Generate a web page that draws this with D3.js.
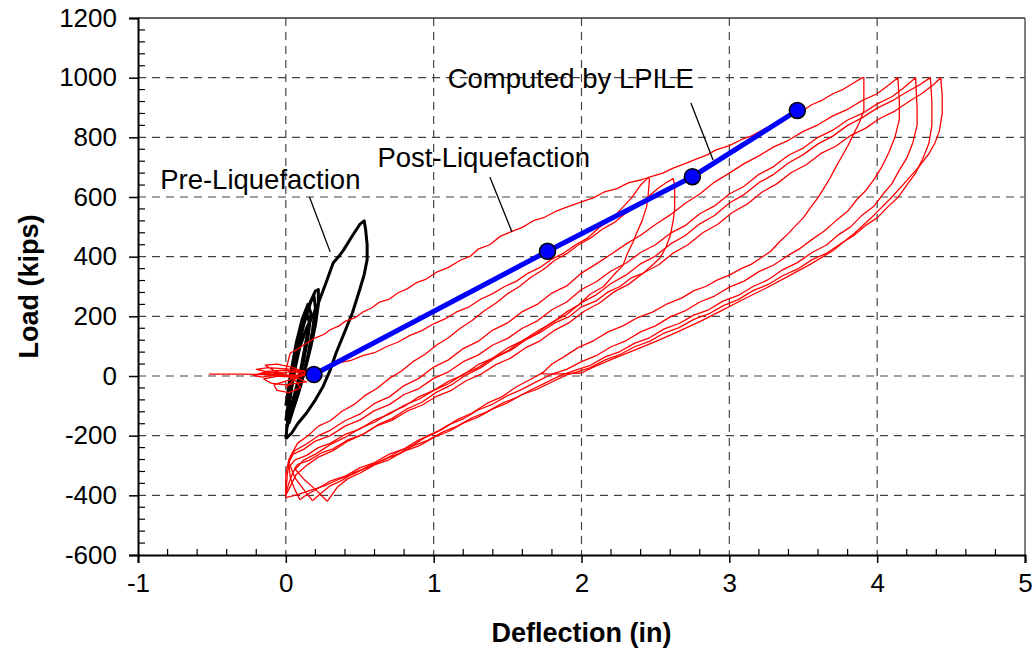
<!DOCTYPE html>
<html>
<head>
<meta charset="utf-8">
<script src="https://cdn.jsdelivr.net/npm/d3@7"></script>
<style>
  body { margin: 0; background: #fff; }
  svg text { font-family: "Liberation Sans", Arial, sans-serif; fill: #000; }
</style>
</head>
<body>
<script>
"use strict";

// Axis ticks
const xTicks = [-1, 0, 1, 2, 3, 4, 5];
const yTicks = [-600, -400, -200, 0, 200, 400, 600, 800, 1000, 1200];

// LPILE computed points (deflection in, load kips)
const lpileDefl = [0.19, 1.77, 2.75, 3.46];
const lpileLoad = [5, 418, 668, 890];

// Pre-liquefaction test loops (black)
const preOuter = [[0.0,-210],[0.01,-160],[0.02,-100],[0.04,-40],[0.06,20],[0.095,97],[0.14,160],[0.21,231],[0.27,310],[0.32,379],[0.36,402],[0.39,422],[0.45,470],[0.5,508],[0.53,520],[0.54,490],[0.55,440],[0.55,390],[0.53,340],[0.5,290],[0.45,211],[0.4,150],[0.34,77],[0.3,20],[0.25,-37],[0.2,-80],[0.14,-124],[0.08,-160],[0.04,-191],[0.0,-210]];
const preIn1 = [[0.0,-150],[0.03,-40],[0.06,60],[0.1,150],[0.15,230],[0.2,285],[0.22,290],[0.22,240],[0.2,170],[0.17,100],[0.13,20],[0.09,-50],[0.05,-110],[0.02,-160]];
const preIn2 = [[0.01,-130],[0.04,-30],[0.08,80],[0.12,170],[0.17,250],[0.19,270],[0.2,230],[0.18,150],[0.15,70],[0.11,-10],[0.07,-80],[0.03,-140]];
const preIn3 = [[0.0,-100],[0.03,0],[0.07,110],[0.11,190],[0.15,240],[0.17,210],[0.15,130],[0.12,50],[0.08,-30],[0.04,-100],[0.01,-170]];
const preIn4 = [[0.02,-60],[0.06,50],[0.1,150],[0.14,210],[0.16,180],[0.13,100],[0.1,20],[0.06,-60],[0.02,-120]];

// Post-liquefaction test loops (red)
const postNoise = [[-0.52,6],[-0.3,6],[-0.1,5],[0.05,4],[0.12,2],[-0.02,-2],[-0.18,8],[-0.05,12],[0.1,14],[0.04,22],[-0.12,28],[-0.2,22],[-0.08,10],[0.08,-8],[0.14,-20],[0.0,-30],[-0.1,-24],[-0.15,-10],[-0.05,0],[0.1,-2],[0.15,8],[0.04,30],[-0.06,40],[-0.14,36],[-0.08,18],[0.06,-12],[0.1,-40],[0.02,-56],[-0.06,-48],[-0.08,-30],[0.02,-14],[0.12,6],[0.18,14],[0.08,20],[-0.04,6],[-0.16,-4],[-0.22,2],[-0.12,16],[0.0,20],[0.1,10],[0.16,-4],[0.2,0],[0.1,4]];

const postA = [[0.0,-40],[0.06,-10],[0.12,5],[0.2,18],[0.28,30],[0.36,44],[0.44,52],[0.52,68],[0.6,78],[0.68,98],[0.76,114],[0.84,136],[0.92,152],[1.0,175],[1.08,192],[1.16,216],[1.24,232],[1.32,258],[1.4,276],[1.48,300],[1.56,318],[1.64,345],[1.72,364],[1.8,392],[1.88,412],[1.96,440],[2.04,462],[2.12,498],[2.2,524],[2.28,566],[2.34,598],[2.4,640],[2.45,664],[2.46,660],[2.45,600],[2.44,567],[2.41,520],[2.38,488],[2.35,450],[2.31,410],[2.28,370],[2.22,340],[2.15,300],[2.06,275],[1.98,238],[1.9,215],[1.8,178],[1.7,150],[1.6,118],[1.5,94],[1.4,60],[1.3,38],[1.2,4],[1.1,-18],[1.0,-48],[0.9,-70],[0.8,-102],[0.7,-124],[0.6,-155],[0.5,-176],[0.4,-206],[0.3,-230],[0.2,-262],[0.12,-282],[0.05,-320],[0.02,-360],[0.0,-395]];

const postB = [[0.0,-395],[0.01,-330],[0.03,-270],[0.08,-225],[0.15,-200],[0.22,-168],[0.3,-150],[0.38,-118],[0.46,-96],[0.54,-64],[0.62,-40],[0.7,-8],[0.78,16],[0.86,48],[0.94,72],[1.02,104],[1.1,128],[1.18,160],[1.26,186],[1.34,218],[1.42,244],[1.5,276],[1.58,300],[1.66,332],[1.74,356],[1.82,388],[1.9,410],[1.98,440],[2.06,462],[2.14,492],[2.22,514],[2.3,546],[2.38,570],[2.46,604],[2.52,630],[2.58,650],[2.62,662],[2.63,640],[2.63,560],[2.62,520],[2.6,470],[2.57,430],[2.53,395],[2.48,372],[2.42,345],[2.34,330],[2.26,300],[2.18,282],[2.1,252],[2.0,232],[1.92,200],[1.82,178],[1.72,146],[1.62,120],[1.52,86],[1.42,62],[1.32,28],[1.22,4],[1.12,-30],[1.02,-54],[0.92,-88],[0.82,-110],[0.72,-142],[0.62,-164],[0.52,-196],[0.42,-218],[0.32,-250],[0.22,-272],[0.14,-300],[0.07,-330],[0.03,-370],[0.0,-400]];

const postC = [[0.0,20],[0.03,77],[0.08,90],[0.12,104],[0.2,128],[0.26,140],[0.3,155],[0.36,168],[0.4,183],[0.47,196],[0.52,214],[0.58,228],[0.635,248],[0.7,258],[0.76,279],[0.82,292],[0.88,312],[0.95,325],[1.02,348],[1.1,364],[1.18,388],[1.25,402],[1.3,425],[1.38,440],[1.45,468],[1.53,485],[1.6,498],[1.68,522],[1.75,532],[1.83,553],[1.9,566],[2.0,584],[2.08,597],[2.15,616],[2.24,628],[2.32,648],[2.4,657],[2.47,668],[2.55,680],[2.62,697],[2.7,712],[2.78,728],[2.85,741],[2.91,758],[3.0,772],[3.08,792],[3.15,805],[3.24,829],[3.32,846],[3.4,868],[3.48,884],[3.56,910],[3.63,925],[3.7,946],[3.77,961],[3.84,982],[3.9,1000],
  [3.91,1000],[3.91,940],[3.91,890],[3.88,850],[3.84,810],[3.8,770],[3.76,735],[3.72,700],[3.68,662],[3.64,630],[3.6,598],[3.55,565],[3.5,530],[3.45,505],[3.4,478],[3.34,450],[3.28,418],[3.22,398],[3.15,375],[3.08,360],[3.0,338],[2.92,322],[2.84,300],[2.76,286],[2.68,262],[2.58,242],[2.48,214],[2.38,196],[2.28,168],[2.18,148],[2.08,118],[1.98,96],[1.88,64],[1.8,40],[1.74,12],[1.66,-10],[1.56,-36],[1.46,-70],[1.36,-92],[1.26,-124],[1.16,-146],[1.06,-178],[0.96,-200],[0.86,-232],[0.76,-254],[0.66,-282],[0.56,-302],[0.46,-328],[0.36,-346],[0.26,-368],[0.16,-384],[0.08,-398],[0.0,-408]];

const postD = [[0.0,-408],[0.0,-330],[0.02,-280],[0.06,-250],[0.14,-228],[0.22,-200],[0.3,-182],[0.4,-150],[0.5,-128],[0.6,-92],[0.7,-70],[0.8,-32],[0.9,-8],[1.0,30],[1.1,54],[1.2,92],[1.3,116],[1.4,154],[1.5,178],[1.6,216],[1.7,240],[1.8,278],[1.9,302],[2.0,345],[2.1,376],[2.2,408],[2.3,442],[2.4,472],[2.5,508],[2.6,540],[2.7,578],[2.8,610],[2.9,650],[3.0,680],[3.1,712],[3.2,738],[3.3,768],[3.4,790],[3.5,820],[3.6,842],[3.7,872],[3.8,894],[3.9,924],[4.0,946],[4.08,976],[4.14,1000],
  [4.15,920],[4.15,860],[4.12,800],[4.08,750],[4.03,700],[3.98,660],[3.92,620],[3.86,590],[3.8,552],[3.72,520],[3.64,485],[3.56,458],[3.48,428],[3.4,405],[3.3,372],[3.2,350],[3.1,318],[3.0,298],[2.9,268],[2.8,248],[2.7,218],[2.6,198],[2.5,168],[2.4,148],[2.3,118],[2.2,98],[2.1,68],[2.0,48],[1.9,22],[1.8,6],[1.7,-18],[1.6,-44],[1.5,-66],[1.4,-94],[1.3,-114],[1.2,-144],[1.1,-164],[1.0,-194],[0.9,-214],[0.8,-244],[0.7,-262],[0.6,-290],[0.5,-308],[0.4,-336],[0.3,-352],[0.2,-382],[0.14,-398],[0.095,-415]];

const postE = [[0.095,-415],[0.06,-380],[0.03,-340],[0.02,-290],[0.05,-262],[0.12,-246],[0.2,-218],[0.3,-200],[0.4,-168],[0.5,-148],[0.6,-116],[0.7,-96],[0.8,-62],[0.9,-42],[1.0,-8],[1.1,14],[1.2,48],[1.3,70],[1.4,104],[1.5,126],[1.6,160],[1.7,184],[1.8,222],[1.9,248],[2.0,290],[2.1,316],[2.2,352],[2.3,378],[2.4,414],[2.5,440],[2.6,478],[2.7,504],[2.8,544],[2.9,570],[3.0,610],[3.1,636],[3.2,676],[3.3,702],[3.4,740],[3.5,764],[3.6,800],[3.7,824],[3.8,858],[3.9,880],[4.0,912],[4.1,936],[4.18,966],[4.26,1000],
  [4.27,900],[4.27,840],[4.24,780],[4.2,730],[4.15,690],[4.1,645],[4.04,610],[3.98,570],[3.9,540],[3.82,500],[3.74,474],[3.66,440],[3.56,414],[3.46,380],[3.36,356],[3.26,322],[3.16,300],[3.06,270],[2.96,252],[2.86,222],[2.76,204],[2.66,176],[2.56,158],[2.46,128],[2.36,110],[2.26,82],[2.16,64],[2.06,36],[1.96,20],[1.86,2],[1.76,-22],[1.66,-46],[1.56,-72],[1.46,-92],[1.36,-120],[1.26,-140],[1.16,-168],[1.06,-188],[0.96,-216],[0.86,-234],[0.76,-262],[0.66,-280],[0.56,-306],[0.46,-324],[0.38,-350],[0.3,-368],[0.24,-392],[0.18,-418]];

const postF = [[0.18,-418],[0.12,-380],[0.06,-340],[0.03,-300],[0.06,-282],[0.14,-266],[0.22,-240],[0.3,-226],[0.4,-196],[0.5,-178],[0.6,-148],[0.7,-128],[0.8,-98],[0.9,-78],[1.0,-48],[1.1,-26],[1.2,6],[1.3,28],[1.4,60],[1.5,84],[1.6,118],[1.7,144],[1.8,180],[1.9,206],[2.0,246],[2.1,272],[2.2,310],[2.3,338],[2.4,376],[2.5,402],[2.6,442],[2.7,470],[2.8,510],[2.9,538],[3.0,580],[3.1,608],[3.2,648],[3.3,676],[3.4,714],[3.5,742],[3.6,778],[3.7,804],[3.8,840],[3.9,866],[4.0,898],[4.1,922],[4.2,952],[4.28,974],[4.36,1000],
  [4.37,920],[4.37,840],[4.35,780],[4.31,730],[4.26,680],[4.2,640],[4.14,598],[4.07,566],[4.0,530],[3.92,504],[3.84,470],[3.76,446],[3.66,412],[3.56,390],[3.46,358],[3.36,336],[3.26,306],[3.16,286],[3.06,256],[2.96,236],[2.86,208],[2.76,190],[2.66,162],[2.56,144],[2.46,116],[2.36,98],[2.26,72],[2.16,54],[2.06,28],[1.96,12],[1.9,4],[1.8,-20],[1.7,-44],[1.6,-62],[1.5,-90],[1.4,-110],[1.3,-138],[1.2,-158],[1.1,-186],[1.0,-206],[0.9,-234],[0.8,-252],[0.7,-280],[0.6,-298],[0.5,-326],[0.42,-344],[0.35,-372],[0.28,-420]];

const postG = [[0.28,-420],[0.2,-380],[0.12,-345],[0.06,-310],[0.08,-296],[0.16,-282],[0.24,-258],[0.32,-244],[0.42,-214],[0.52,-196],[0.62,-166],[0.72,-148],[0.82,-118],[0.92,-98],[1.02,-68],[1.12,-48],[1.22,-16],[1.32,6],[1.42,38],[1.52,60],[1.62,94],[1.72,118],[1.82,154],[1.92,180],[2.02,218],[2.12,244],[2.22,282],[2.32,308],[2.42,346],[2.52,372],[2.62,412],[2.72,440],[2.82,480],[2.92,508],[3.02,548],[3.12,576],[3.22,616],[3.32,644],[3.42,682],[3.52,708],[3.62,746],[3.72,770],[3.82,806],[3.92,830],[4.02,864],[4.12,888],[4.22,922],[4.3,946],[4.38,976],[4.43,1000],
  [4.44,940],[4.44,880],[4.42,820],[4.39,780],[4.35,745],[4.28,700],[4.2,655],[4.1,600],[3.98,540],[3.85,480],[3.7,420],[3.55,375],[3.4,335],[3.25,295],[3.1,258],[2.95,220],[2.8,182],[2.65,148],[2.5,115],[2.35,85],[2.2,55],[2.08,30],[2.0,10],[1.9,8],[1.8,6],[1.72,8]];

const preLoops = [preOuter, preIn1, preIn2, preIn3, preIn4];
const postLoops = [postNoise, postA, postB, postC, postD, postE, postF, postG];

// Callouts: label text, text anchor point, leader start, leader end (data units)
const callouts = [
    { text: "Pre-Liquefaction", at: [-0.85, 627], from: [0.16, 600], to: [0.30, 416] },
    { text: "Post-Liquefaction", at: [0.62, 700], from: [1.38, 667], to: [1.53, 483] },
    { text: "Computed by LPILE", at: [1.095, 965], from: [2.74, 915], to: [2.89, 724] }
];

const size = { width: 1035, height: 649 };
const margin = { top: 18, right: 10, bottom: 94, left: 138 };

const svg = d3.select("body").append("svg")
    .attr("width", size.width)
    .attr("height", size.height);

const x = d3.scaleLinear().domain([-1, 5]).range([margin.left, size.width - margin.right]);
const y = d3.scaleLinear().domain([-600, 1200]).range([size.height - margin.bottom, margin.top]);

// plain hyphen for negatives, like the original
const fmt = d => String(d);

// Grid lines (dashed)
const grid = svg.append("g");
grid.selectAll(".vgrid")
    .data(xTicks.slice(1, -1))
    .enter().append("line")
    .attr("x1", d => x(d)).attr("x2", d => x(d))
    .attr("y1", y(1200)).attr("y2", y(-600))
    .attr("stroke", "#444").attr("stroke-width", 1.2)
    .attr("stroke-dasharray", "8,6");
grid.selectAll(".hgrid")
    .data(yTicks.slice(1, -1))
    .enter().append("line")
    .attr("x1", x(-1)).attr("x2", x(5))
    .attr("y1", d => y(d)).attr("y2", d => y(d))
    .attr("stroke", "#444").attr("stroke-width", 1.2)
    .attr("stroke-dasharray", "8,6");

// Frame top and right
svg.append("line")
    .attr("x1", x(-1)).attr("x2", x(5)).attr("y1", y(1200)).attr("y2", y(1200))
    .attr("stroke", "#333").attr("stroke-width", 1.5);
svg.append("line")
    .attr("x1", x(5)).attr("x2", x(5)).attr("y1", y(1200)).attr("y2", y(-600))
    .attr("stroke", "#555").attr("stroke-width", 1.5);

// Data lines
const line = d3.line().x(d => x(d[0])).y(d => y(d[1]));

svg.append("g").selectAll("path")
    .data(preLoops)
    .enter().append("path")
    .attr("d", line)
    .attr("fill", "none")
    .attr("stroke", "#000")
    .attr("stroke-width", 3)
    .attr("stroke-linejoin", "round");

svg.append("g").selectAll("path")
    .data(postLoops)
    .enter().append("path")
    .attr("d", line)
    .attr("fill", "none")
    .attr("stroke", "#ff0000")
    .attr("stroke-width", 1.3)
    .attr("stroke-linejoin", "round");

// LPILE line and markers
const lpile = lpileDefl.map((d, i) => [d, lpileLoad[i]]);
svg.append("path")
    .datum(lpile)
    .attr("d", line)
    .attr("fill", "none")
    .attr("stroke", "#0000ff")
    .attr("stroke-width", 5);
svg.selectAll(".pt")
    .data(lpile)
    .enter().append("circle")
    .attr("cx", d => x(d[0]))
    .attr("cy", d => y(d[1]))
    .attr("r", 8)
    .attr("fill", "#0000ff")
    .attr("stroke", "#000")
    .attr("stroke-width", 1.5);

// Callout text and leaders
callouts.forEach(c => {
    svg.append("line")
        .attr("x1", x(c.from[0])).attr("y1", y(c.from[1]))
        .attr("x2", x(c.to[0])).attr("y2", y(c.to[1]))
        .attr("stroke", "#000").attr("stroke-width", 1.3);
    svg.append("text")
        .attr("x", x(c.at[0])).attr("y", y(c.at[1]))
        .attr("font-size", 27.5)
        .text(c.text);
});

// Axes
const xAxis = d3.axisBottom(x).tickValues(xTicks).tickSize(8).tickFormat(fmt);
const yAxis = d3.axisLeft(y).tickValues(yTicks).tickSize(9).tickFormat(fmt);

const gx = svg.append("g")
    .attr("transform", `translate(0,${y(-600)})`)
    .call(xAxis);
const gy = svg.append("g")
    .attr("transform", `translate(${x(-1)},0)`)
    .call(yAxis);

[gx, gy].forEach(g => {
    g.select(".domain").attr("stroke", "#000").attr("stroke-width", 2);
    g.selectAll(".tick line").attr("stroke", "#000").attr("stroke-width", 1.5);
    g.selectAll(".tick text")
        .attr("font-family", "Liberation Sans, Arial, sans-serif")
        .attr("font-size", 26)
        .attr("fill", "#000");
});
gx.selectAll(".tick text").attr("dy", "1.0em");
gy.selectAll(".tick text").attr("x", -21);

// Minor ticks (inside)
const xMinor = d3.range(-1, 5.001, 0.2).filter(v => Math.abs(v - Math.round(v)) > 1e-6);
const yMinor = d3.range(-600, 1201, 40).filter(v => v % 200 !== 0);
svg.append("g").selectAll("line")
    .data(xMinor)
    .enter().append("line")
    .attr("x1", d => x(d)).attr("x2", d => x(d))
    .attr("y1", y(-600)).attr("y2", y(-600) - 6)
    .attr("stroke", "#000").attr("stroke-width", 1.2);
svg.append("g").selectAll("line")
    .data(yMinor)
    .enter().append("line")
    .attr("x1", x(-1)).attr("x2", x(-1) + 7)
    .attr("y1", d => y(d)).attr("y2", d => y(d))
    .attr("stroke", "#000").attr("stroke-width", 1.2);

// Axis titles
svg.append("text")
    .attr("x", (x(-1) + x(5)) / 2)
    .attr("y", 642)
    .attr("text-anchor", "middle")
    .attr("font-size", 27)
    .attr("font-weight", "bold")
    .text("Deflection (in)");
svg.append("text")
    .attr("transform", `translate(38,${(y(1200) + y(-600)) / 2}) rotate(-90)`)
    .attr("text-anchor", "middle")
    .attr("font-size", 27)
    .attr("font-weight", "bold")
    .text("Load (kips)");
</script>
</body>
</html>
